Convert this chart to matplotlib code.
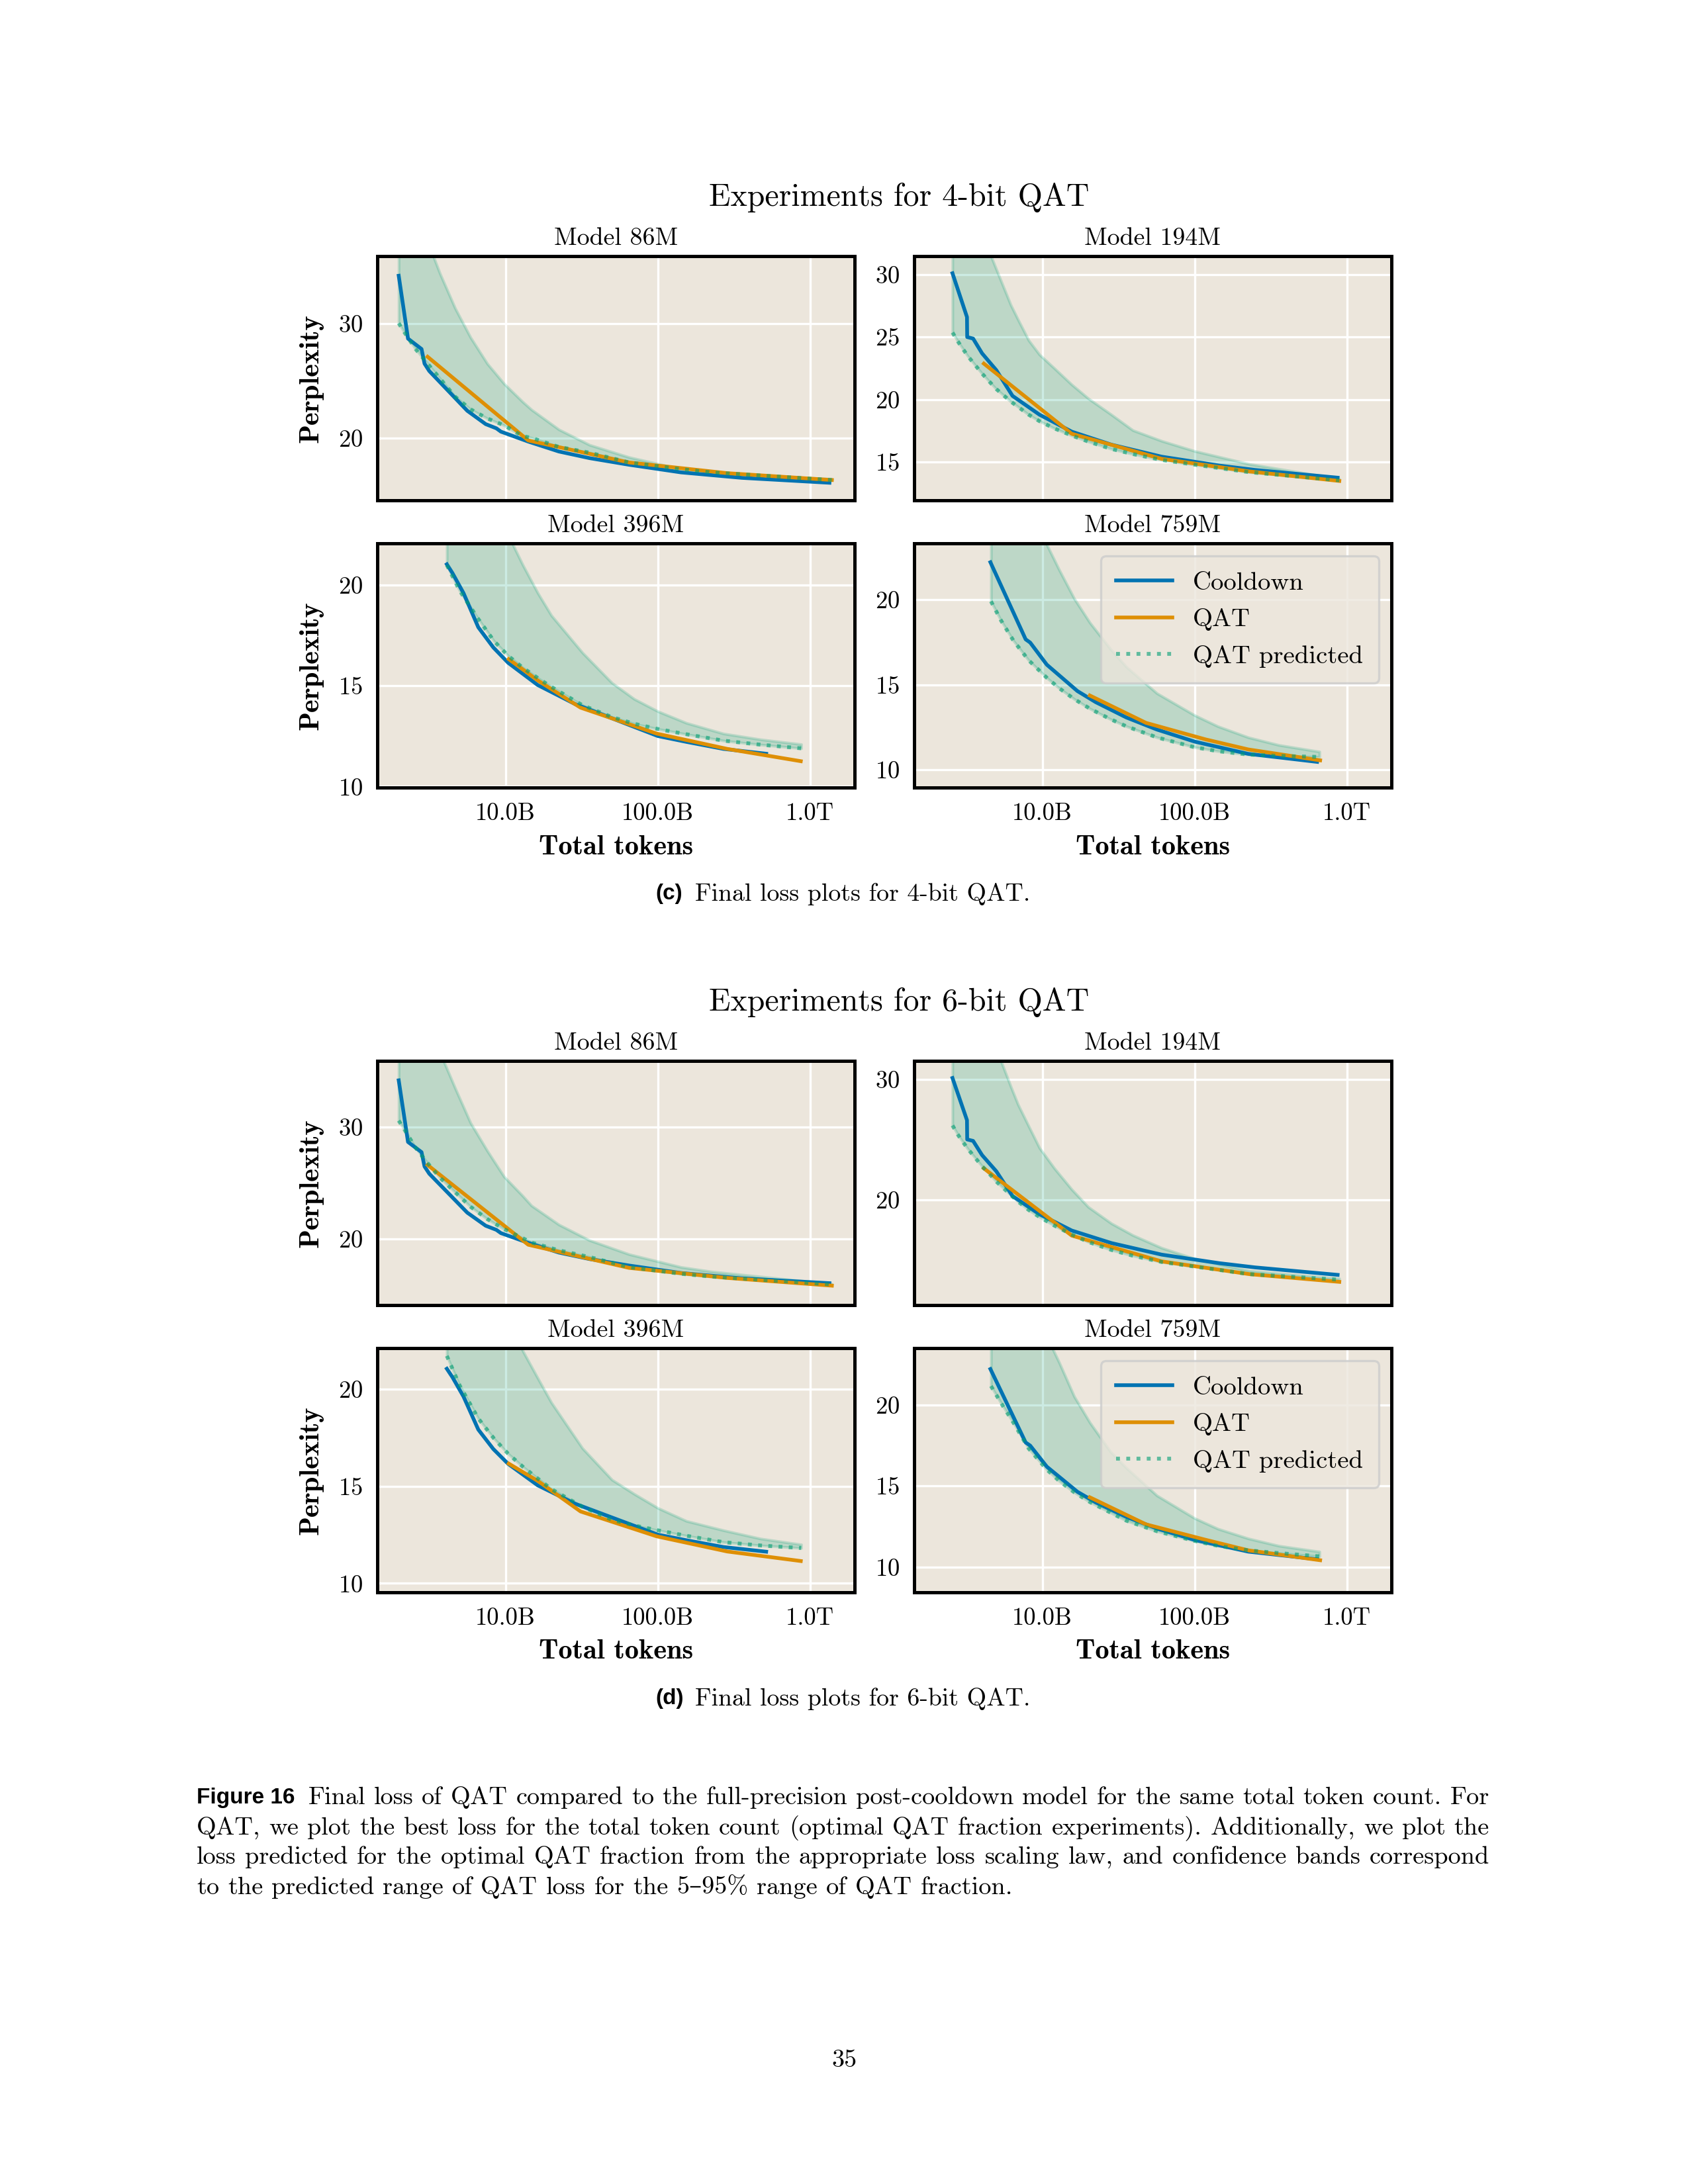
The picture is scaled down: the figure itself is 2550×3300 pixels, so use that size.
import matplotlib
matplotlib.use("Agg")
import matplotlib.pyplot as plt
from matplotlib.ticker import FixedLocator, FuncFormatter, NullLocator

SERIF = ["cmr10", "DejaVu Serif"]
BOLD = ["cmb10", "DejaVu Serif"]
plt.rcParams["font.family"] = SERIF
plt.rcParams["axes.formatter.use_mathtext"] = True

# ---- data (token counts in billions, perplexity) ----
bits = ["4", "6"]
model_names = ["86M", "194M", "396M", "759M"]

# full precision cooldown runs (same runs in both figures)
cd_86m_tok = [1.99, 2.29, 2.81, 2.94, 3.16, 5.61, 7.41, 8.71, 9.33, 14.1, 22.4, 35.6, 64.7, 142, 357, 1340]
cd_86m_ppl = [34.2, 28.69, 27.78, 26.5, 25.85, 22.37, 21.2, 20.83, 20.54, 19.67, 18.8, 18.22, 17.64, 16.97, 16.49, 16.06]
cd_194m_tok = [2.57, 3.2, 3.21, 3.51, 4.02, 4.99, 6.37, 9.57, 15.6, 28.4, 60.7, 145, 249, 869]
cd_194m_ppl = [30.1, 26.6, 25.0, 24.88, 23.7, 22.35, 20.3, 18.8, 17.44, 16.4, 15.44, 14.73, 14.38, 13.76]
cd_396m_tok = [4.12, 4.48, 5.3, 6.63, 8.32, 10.4, 16.3, 28.6, 50, 100, 154, 270, 515]
cd_396m_ppl = [21.04, 20.61, 19.61, 17.91, 16.91, 16.15, 15.04, 14.1, 13.39, 12.51, 12.22, 11.87, 11.63]
cd_759m_tok = [4.56, 7.77, 8.32, 10.7, 17.0, 22.4, 35.6, 56.5, 100, 225, 637]
cd_759m_ppl = [22.2, 17.67, 17.48, 16.18, 14.63, 13.98, 13.08, 12.37, 11.66, 10.94, 10.47]

# best QAT loss per total token count
qat_86m_tok = [3.08, 14.1, 64.7, 286, 1390]
qat4_86m_ppl = [27.1, 19.77, 17.84, 16.9, 16.3]
qat6_86m_ppl = [26.63, 19.5, 17.43, 16.53, 15.84]
qat_194m_tok = [4.13, 15.6, 60.7, 229, 891]
qat4_194m_ppl = [22.88, 17.27, 15.27, 14.26, 13.5]
qat6_194m_ppl = [22.6, 17.02, 14.88, 13.82, 13.18]
qat_396m_tok = [10.5, 16.3, 31.1, 98.4, 286, 869]
qat4_396m_ppl = [16.33, 15.27, 13.92, 12.63, 11.87, 11.26]
qat6_396m_ppl = [16.16, 15.27, 13.7, 12.42, 11.64, 11.15]
qat_759m_tok = [20.5, 48, 118, 225, 667]
qat4_759m_ppl = [14.37, 12.76, 11.79, 11.2, 10.56]
qat6_759m_ppl = [14.29, 12.62, 11.67, 11.02, 10.41]

# predicted QAT loss (optimal fraction, lower edge of band) and upper edge of the 5-95% band
pred_86m_tok = [1.99, 2.18, 2.56, 3.08, 3.71, 4.67, 5.89, 7.59, 9.77, 12.9, 14.8, 22.4, 35.6, 64.7, 142, 225, 1390]
pred4_86m_ppl = [30.04, 29.2, 27.8, 26.5, 25.2, 23.6, 22.5, 21.7, 21.1, 20.15, 20.0, 19.2, 18.7, 17.84, 17.25, 16.97, 16.3]
band4_86m_hi = [44.4, 43.0, 40.4, 37.2, 34.4, 31.35, 28.8, 26.5, 24.75, 23.18, 22.47, 20.73, 19.38, 18.3, 17.26, 16.87, 16.4]
pred6_86m_ppl = [30.6, 29.75, 28.2, 26.8, 25.5, 24.2, 22.9, 21.8, 20.9, 20.1, 19.7, 19.0, 18.4, 17.5, 16.9, 16.65, 15.95]
band6_86m_hi = [44.0, 42.9, 41.0, 38.8, 36.7, 33.5, 30.4, 27.9, 25.6, 23.9, 23.0, 21.3, 19.9, 18.65, 17.5, 17.1, 16.0]

pred_194m_tok = [2.57, 2.82, 3.23, 4.02, 4.6, 4.99, 6.2, 6.92, 8.13, 9.57, 12.0, 15.6, 20.0, 28.4, 39.3, 60.7, 100, 229, 891]
pred4_194m_ppl = [25.36, 24.56, 23.5, 22.08, 21.3, 20.84, 19.85, 19.43, 18.8, 18.28, 17.7, 17.13, 16.65, 16.06, 15.65, 15.18, 14.8, 14.2, 13.55]
band4_194m_hi = [40.3, 38.9, 36.8, 33.5, 31.47, 30.4, 27.57, 26.4, 24.74, 23.6, 22.5, 21.2, 20.1, 18.8, 17.55, 16.7, 15.89, 14.85, 13.67]
pred6_194m_ppl = [26.16, 25.3, 24.24, 22.78, 22.0, 21.5, 20.4, 19.85, 19.15, 18.57, 17.85, 17.11, 16.5, 15.83, 15.35, 14.83, 14.45, 13.82, 13.36]
band6_194m_hi = [42.9, 41.5, 39.5, 35.9, 33.7, 32.5, 29.4, 27.9, 26.1, 24.3, 22.6, 20.85, 19.4, 18.03, 17.05, 16.0, 15.1, 14.1, 13.45]

pred_396m_tok = [4.12, 5.0, 6.63, 8.4, 10.4, 13, 16.3, 20, 32, 50, 70, 100, 154, 270, 474, 875]
pred4_396m_ppl = [21.0, 19.73, 18.32, 17.23, 16.5, 15.9, 15.39, 14.95, 14.04, 13.45, 13.12, 12.86, 12.6, 12.28, 12.08, 11.9]
band4_396m_hi = [31.5, 29.3, 26.5, 24.3, 22.5, 21.0, 19.61, 18.5, 16.65, 15.15, 14.35, 13.74, 13.16, 12.63, 12.34, 12.1]
pred6_396m_ppl = [21.7, 20.18, 18.48, 17.45, 16.67, 16.0, 15.39, 14.85, 13.94, 13.27, 12.98, 12.73, 12.45, 12.12, 11.95, 11.82]
band6_396m_hi = [32.3, 30.3, 27.6, 25.4, 23.6, 21.95, 20.55, 19.3, 16.95, 15.33, 14.6, 13.88, 13.21, 12.73, 12.3, 12.0]

pred_759m_tok = [4.6, 5.36, 6.45, 8.13, 10.7, 12.9, 16.2, 20.5, 28.0, 35.6, 56.5, 100, 142, 225, 357, 660]
pred4_759m_ppl = [19.9, 18.77, 17.6, 16.44, 15.41, 14.8, 14.16, 13.6, 12.98, 12.56, 11.91, 11.33, 11.1, 10.9, 10.82, 10.76]
band4_759m_hi = [33.5, 31.6, 29.3, 26.5, 23.23, 21.75, 20.06, 18.65, 17.1, 16.05, 14.5, 13.21, 12.56, 11.91, 11.46, 11.07]
pred6_759m_ppl = [21.15, 20.1, 18.9, 17.3, 16.0, 15.3, 14.6, 14.0, 13.35, 12.85, 12.2, 11.6, 11.3, 11.02, 10.85, 10.65]
band6_759m_hi = [35.0, 33.0, 30.5, 27.5, 24.2, 22.6, 20.5, 18.9, 17.1, 16.1, 14.4, 13.0, 12.35, 11.75, 11.3, 10.94]

ylims_4bit = [(14.52, 35.92), (11.95, 31.47), (9.95, 22.08), (8.96, 23.31)]
ylims_6bit = [(14.1, 35.94), (11.25, 31.52), (9.54, 22.1), (8.43, 23.49)]
yticks_4bit = [[20, 30], [15, 20, 25, 30], [10, 15, 20], [10, 15, 20]]
yticks_6bit = [[20, 30], [20, 30], [10, 15, 20], [10, 15, 20]]
xtick_vals = [1e10, 1e11, 1e12]
xtick_labels = ["10.0B", "100.0B", "1.0T"]

caption_c = "Final loss plots for 4-bit QAT."
caption_d = "Final loss plots for 6-bit QAT."
fig_caption = [
    "Final loss of QAT compared to the full-precision post-cooldown model for the same total token count. For",
    "QAT, we plot the best loss for the total token count (optimal QAT fraction experiments). Additionally, we plot the",
    "loss predicted for the optimal QAT fraction from the appropriate loss scaling law, and confidence bands correspond",
    "to the predicted range of QAT loss for the 5\u201395% range of QAT fraction.",
]

cooldown = {
    "86M": (cd_86m_tok, cd_86m_ppl),
    "194M": (cd_194m_tok, cd_194m_ppl),
    "396M": (cd_396m_tok, cd_396m_ppl),
    "759M": (cd_759m_tok, cd_759m_ppl),
}
qat = {
    ("4", "86M"): (qat_86m_tok, qat4_86m_ppl), ("6", "86M"): (qat_86m_tok, qat6_86m_ppl),
    ("4", "194M"): (qat_194m_tok, qat4_194m_ppl), ("6", "194M"): (qat_194m_tok, qat6_194m_ppl),
    ("4", "396M"): (qat_396m_tok, qat4_396m_ppl), ("6", "396M"): (qat_396m_tok, qat6_396m_ppl),
    ("4", "759M"): (qat_759m_tok, qat4_759m_ppl), ("6", "759M"): (qat_759m_tok, qat6_759m_ppl),
}
pred = {
    ("4", "86M"): (pred_86m_tok, pred4_86m_ppl, band4_86m_hi),
    ("6", "86M"): (pred_86m_tok, pred6_86m_ppl, band6_86m_hi),
    ("4", "194M"): (pred_194m_tok, pred4_194m_ppl, band4_194m_hi),
    ("6", "194M"): (pred_194m_tok, pred6_194m_ppl, band6_194m_hi),
    ("4", "396M"): (pred_396m_tok, pred4_396m_ppl, band4_396m_hi),
    ("6", "396M"): (pred_396m_tok, pred6_396m_ppl, band6_396m_hi),
    ("4", "759M"): (pred_759m_tok, pred4_759m_ppl, band4_759m_hi),
    ("6", "759M"): (pred_759m_tok, pred6_759m_ppl, band6_759m_hi),
}
ylims = {"4": ylims_4bit, "6": ylims_6bit}
yticks = {"4": yticks_4bit, "6": yticks_6bit}

# ---- layout (pixels on a 2550x3300 page) ----
W, H = 2550, 3300
BG = "#ece6dc"
BLUE, ORANGE, GREEN = "#0173B2", "#DE8F05", "#029E73"
col_left = [570, 1381]
ax_w, ax_h = 721, 369
block_top = [387, 1603]
row_step = 434


def fx(px):
    return px / W


def fy(py):
    return 1 - py / H


def fmt_tokens(v, _pos):
    return xtick_labels[xtick_vals.index(v)] if v in xtick_vals else ""


fig = plt.figure(figsize=(W / 300, H / 300), dpi=300)

for b, bit in enumerate(bits):
    top0 = block_top[b]
    for i, name in enumerate(model_names):
        row, col = divmod(i, 2)
        left = col_left[col]
        top = top0 + row * row_step
        ax = fig.add_axes([fx(left), fy(top + ax_h), fx(ax_w), ax_h / H])
        ax.set_facecolor(BG)
        ax.set_xscale("log")

        ptok, pppl, phi = pred[(bit, name)]
        ptok = [t * 1e9 for t in ptok]
        ax.fill_between(ptok, pppl, phi, color=GREEN, alpha=0.2, linewidth=1.0, zorder=2)
        ctok, cppl = cooldown[name]
        ax.plot([t * 1e9 for t in ctok], cppl, color=BLUE, lw=1.35, label="Cooldown", zorder=3)
        qtok, qppl = qat[(bit, name)]
        ax.plot([t * 1e9 for t in qtok], qppl, color=ORANGE, lw=1.35, label="QAT", zorder=4)
        ax.plot(ptok, pppl, color=GREEN, alpha=0.6, lw=1.4, ls=":", label="QAT predicted", zorder=5)

        ax.set_xlim(1.44e9, 1.96e12)
        ax.set_ylim(*ylims[bit][i])
        ax.xaxis.set_major_locator(FixedLocator(xtick_vals))
        ax.xaxis.set_minor_locator(NullLocator())
        ax.xaxis.set_major_formatter(FuncFormatter(fmt_tokens))
        ax.yaxis.set_major_locator(FixedLocator(yticks[bit][i]))
        ax.yaxis.set_minor_locator(NullLocator())
        ax.grid(True, color="white", lw=0.8, zorder=1)
        ax.set_axisbelow(True)
        ax.tick_params(axis="both", length=0, labelsize=8.8)
        ax.tick_params(axis="y", pad=5.3)
        ax.tick_params(axis="x", pad=5.5)
        if row == 0:
            ax.tick_params(axis="x", labelbottom=False)
        for sp in ax.spines.values():
            sp.set_color("black")
            sp.set_linewidth(1.2)
        ax.set_title(f"Model {name}", fontsize=9.1, pad=4)

        if i == 3:
            leg = ax.legend(loc="upper right", fontsize=9.3, fancybox=True, framealpha=0.8,
                            facecolor=BG, edgecolor="#cccccc", labelspacing=0.55,
                            handlelength=2.2, borderpad=0.6)
            leg.get_frame().set_linewidth(0.8)
        if col == 0:
            fig.text(fx(470), fy(top + ax_h / 2), "Perplexity", rotation=90, ha="center",
                     va="center", family=BOLD, fontsize=10.2)
        if row == 1:
            fig.text(fx(left + ax_w / 2), fy(top0 + 893), "Total tokens", ha="center",
                     va="center", family=BOLD, fontsize=10.2)

    fig.text(fx(1358), fy(top0 - 89), f"Experiments for {bit}-bit QAT", ha="center",
             va="center", fontsize=11.5)

# sub captions
for top0, tag, text in [(block_top[0], "(c)", caption_c), (block_top[1], "(d)", caption_d)]:
    fig.text(fx(990), fy(top0 + 964), tag, ha="left", va="center",
             family=["Liberation Sans"], weight="bold", fontsize=8)
    fig.text(fx(1050), fy(top0 + 964), text, ha="left", va="center", fontsize=9.1)

# justified figure caption
renderer = fig.canvas.get_renderer()
line_y = [2716, 2762, 2806, 2852]
text_x0, text_x1 = 297, 2250
fig16 = fig.text(fx(text_x0), fy(line_y[0]), "Figure 16", ha="left", va="center",
                 family=["Liberation Sans"], weight="bold", fontsize=8)
start_x = text_x0 + fig16.get_window_extent(renderer).width + 20


def justify(words, x0, x1, y, stretch=True):
    texts = [fig.text(0, 0, w, ha="left", va="center", fontsize=9.2) for w in words]
    widths = [t.get_window_extent(renderer).width for t in texts]
    if stretch:
        gap = (x1 - x0 - sum(widths)) / (len(words) - 1)
    else:
        gap = 0.333 * 9.2 / 72 * 300
    x = x0
    for t, w in zip(texts, widths):
        t.set_position((fx(x), fy(y)))
        x += w + gap


for k, line in enumerate(fig_caption):
    x0 = start_x if k == 0 else text_x0
    justify(line.split(" "), x0, text_x1, line_y[k], stretch=k < len(fig_caption) - 1)

fig.text(fx(1275), fy(3113), "35", ha="center", va="center", fontsize=9.2)

fig.savefig("out.png", dpi=300, facecolor="white")
plt.close(fig)
